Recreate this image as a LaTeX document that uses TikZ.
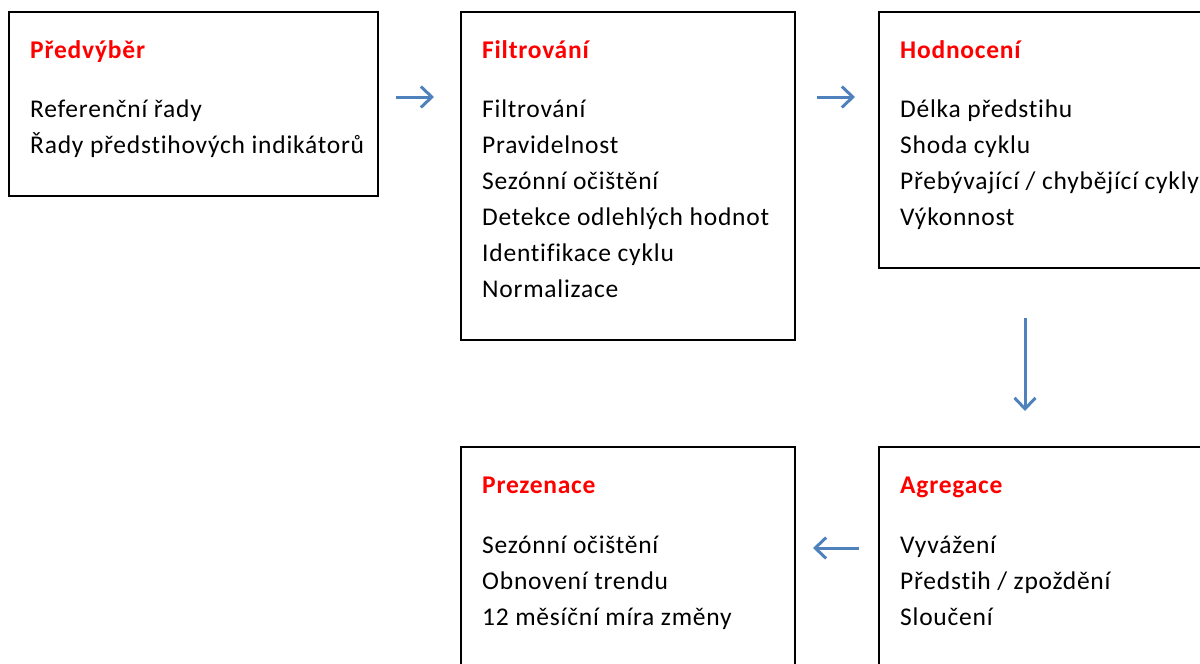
\documentclass[tikz,border=0pt]{standalone}
\usepackage{fontspec}
\setmainfont{Carlito}[Ligatures=NoCommon,LetterSpace=3]
\usetikzlibrary{arrows.meta}
\definecolor{arrblue}{RGB}{79,129,189}
\definecolor{titlered}{RGB}{255,0,0}
\begin{document}
\begin{tikzpicture}[x=1pt,y=-1pt,
 box/.style={draw=black, line width=2.5pt, fill=white, anchor=north west, inner sep=0pt, outer sep=0pt},
 ttl/.style={anchor=base west, inner sep=0pt, text=titlered, font=\fontsize{25.5}{36}\selectfont\bfseries},
 body/.style={anchor=base west, inner sep=0pt, font=\fontsize{25.5}{36}\selectfont},
 flow/.style={draw=arrblue, line width=3pt, -{Straight Barb[length=11pt,width=21pt]}}]
\useasboundingbox (0,0) rectangle (1200,664);
\begin{scope}
\clip (0,0) rectangle (1200,664);
% boxes
\node[box, minimum width=369pt, minimum height=184pt] (b1) at (9,12) {};
\node[box, minimum width=334pt, minimum height=328pt] (b2) at (461,12) {};
\node[box, minimum width=340pt, minimum height=256pt] (b3) at (879,12) {};
\node[box, minimum width=340pt, minimum height=240pt] (b4) at (879,447) {};
\node[box, minimum width=334pt, minimum height=240pt] (b5) at (461,447) {};
% box 1
\node[ttl] (t1) at (30,58) {Předvýběr};
\node[body] (l1a) at (30,117) {Referenční řady};
\node[body] (l1b) at (30,153) {Řady předstihových indikátorů};
% box 2
\node[ttl] (t2) at (482,58) {Filtrování};
\node[body] (l2a) at (482,117) {Filtrování};
\node[body] (l2b) at (482,153) {Pravidelnost};
\node[body] (l2c) at (482,189) {Sezónní očištění};
\node[body] (l2d) at (482,225) {Detekce odlehlých hodnot};
\node[body] (l2e) at (482,261) {Identifikace cyklu};
\node[body] (l2f) at (482,297) {Normalizace};
% box 3
\node[ttl] (t3) at (900,58) {Hodnocení};
\node[body] (l3a) at (900,117) {Délka předstihu};
\node[body] (l3b) at (900,153) {Shoda cyklu};
\node[body] (l3c) at (900,189) {Přebývající / chybějící cykly};
\node[body] (l3d) at (900,225) {Výkonnost};
% box 4
\node[ttl] (t4) at (900,493) {Agregace};
\node[body] (l4a) at (900,553) {Vyvážení};
\node[body] (l4b) at (900,589) {Předstih / zpoždění};
\node[body] (l4c) at (900,625) {Sloučení};
% box 5
\node[ttl] (t5) at (482,493) {Prezenace};
\node[body] (l5a) at (482,553) {Sezónní očištění};
\node[body] (l5b) at (482,589) {Obnovení trendu};
\node[body] (l5c) at (482,625) {12 měsíční míra změny};
\end{scope}
% arrows
\coordinate (a1s) at (396,97);
\coordinate (a1e) at (434,97);
\coordinate (a2s) at (817,97);
\coordinate (a2e) at (855,97);
\coordinate (a3s) at (1025,318);
\coordinate (a3e) at (1025,411);
\coordinate (a4s) at (859,548);
\coordinate (a4e) at (813,548);
\draw[flow] (a1s) -- (a1e);
\draw[flow] (a2s) -- (a2e);
\draw[flow] (a3s) -- (a3e);
\draw[flow] (a4s) -- (a4e);
\end{tikzpicture}
\end{document}
